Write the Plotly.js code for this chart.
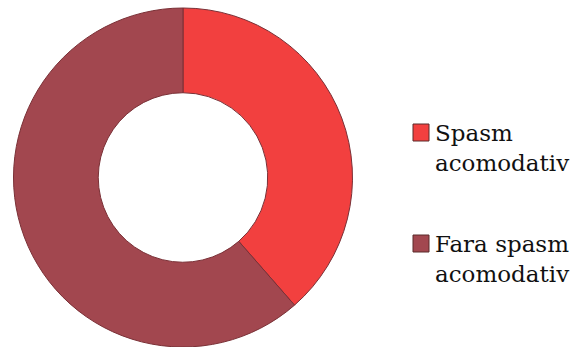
<!DOCTYPE html>
<html><head><meta charset="utf-8">
<script src="https://cdn.plot.ly/plotly-3.0.1.min.js"></script>
<style>html,body{margin:0;padding:0;background:#fff;}#c{width:579px;height:347px;}</style>
</head><body><div id="c"></div>
<script>
const labels = ["Spasm acomodativ", "Fara spasm acomodativ"];
const values = [27, 43];
const colors = ["#F2403F", "#A2474F"];

function wrap(s){ const i = s.lastIndexOf(" "); return s.slice(0,i) + "<br>" + s.slice(i+1); }

const legendY = [124, 235];
const annotations = [], shapes = [];
labels.forEach((l, i) => {
  shapes.push({type:"rect", xref:"paper", yref:"paper",
    x0: 413/579, x1: 429/579, y0: 1-(legendY[i]+17)/347, y1: 1-legendY[i]/347,
    fillcolor: colors[i], line:{color:"#5a2a2a", width:1}});
  annotations.push({xref:"paper", yref:"paper", x: 433/579, y: 1-(legendY[i]-6)/347,
    xanchor:"left", yanchor:"top", align:"left", showarrow:false, text: wrap(l),
    font:{family:"DejaVu Serif", size:23, color:"#111"}});
});

Plotly.newPlot("c", [{
  type:"pie", labels: labels, values: values, hole: 0.5, sort:false,
  direction:"clockwise", rotation:0, textinfo:"none", hoverinfo:"label+percent",
  marker:{colors: colors, line:{color:"#7a3036", width:1}},
  domain:{x:[13/579, 353/579], y:[1-348/347, 1-8/347]}, showlegend:false
}], {
  width:579, height:347, margin:{l:0,r:0,t:0,b:0},
  paper_bgcolor:"#fff", plot_bgcolor:"#fff", showlegend:false,
  annotations: annotations, shapes: shapes
}, {displayModeBar:false, staticPlot:true});
</script></body></html>
